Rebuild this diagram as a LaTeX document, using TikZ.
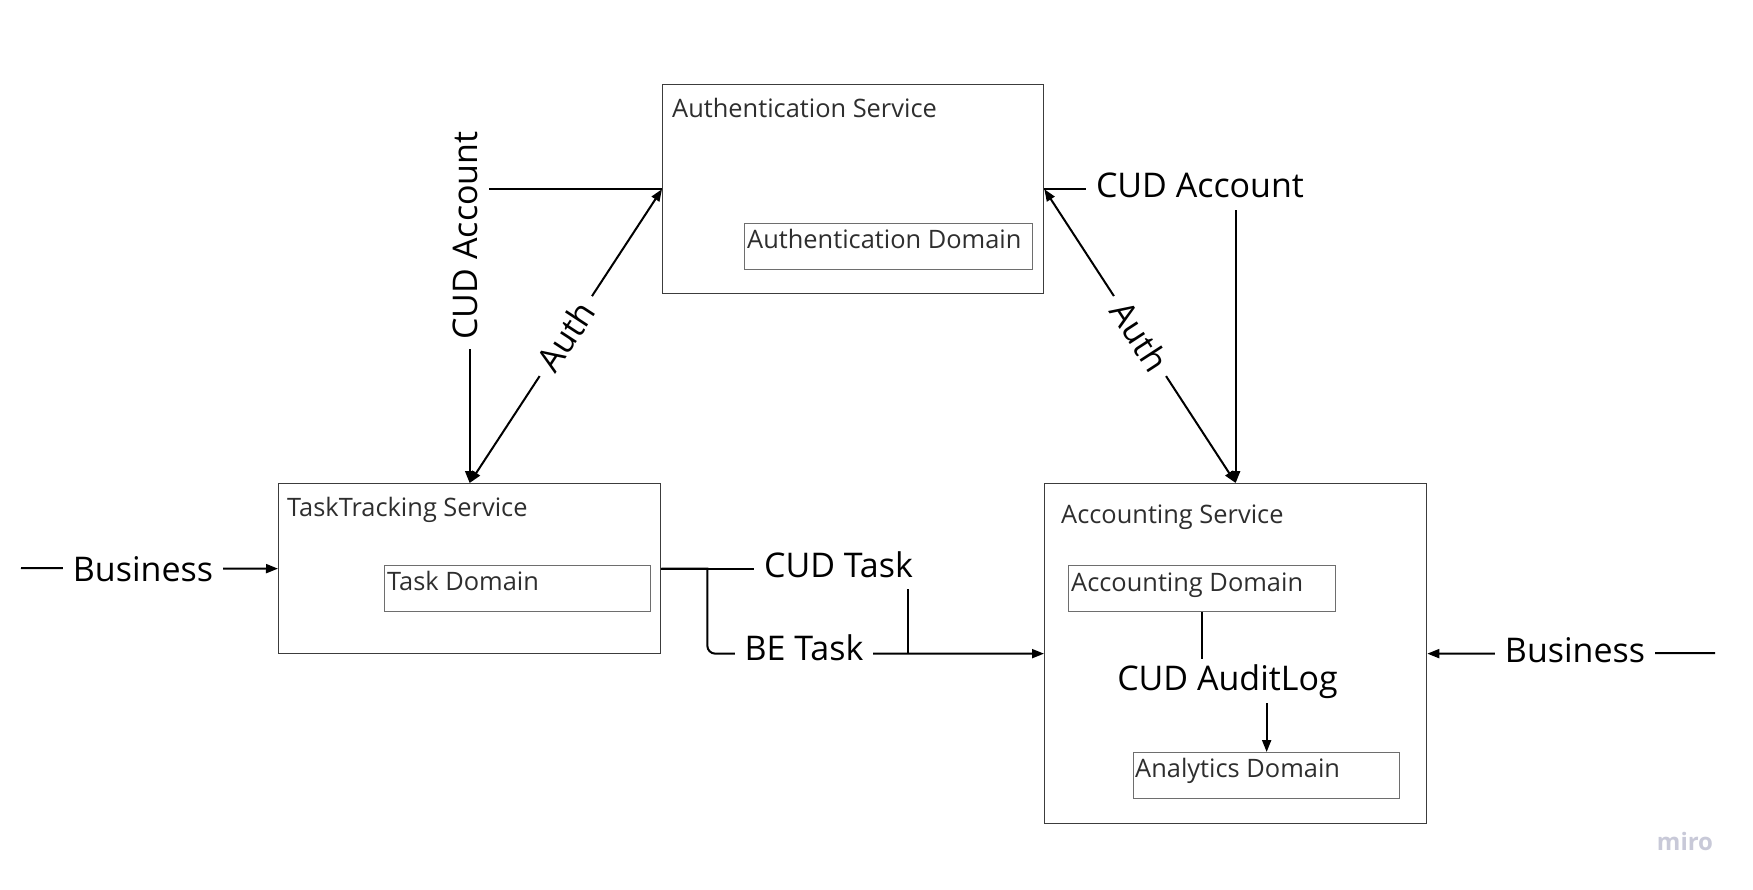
\documentclass[tikz,border=0pt]{standalone}
\usepackage{fontspec}
\setmainfont{Open Sans}
\usetikzlibrary{arrows.meta,calc}
\definecolor{boxgray}{HTML}{3C3C3C}
\definecolor{domgray}{HTML}{6E6E6E}
\definecolor{txtgray}{HTML}{2E2E2E}
\definecolor{mirogray}{HTML}{C8C9D8}
\begin{document}
\begin{tikzpicture}[x=1pt,y=-1pt,
  svcbox/.style={draw=boxgray, line width=1.3pt, anchor=north west, inner sep=0pt},
  dombox/.style={draw=domgray, line width=1.3pt, anchor=north west, inner sep=0pt},
  ttl/.style={anchor=base west, inner sep=0pt, font=\fontsize{25.4}{30}\selectfont, text=txtgray},
  domtxt/.style={anchor=base west, inner sep=0pt, font=\fontsize{25.4}{30}\selectfont, text=txtgray},
  conn/.style={line width=2pt, draw=black},
  tip/.style={-{Triangle[length=12pt,width=9pt]}},
  dtip/.style={{Triangle[length=12pt,width=9pt]}-{Triangle[length=12pt,width=9pt]}},
  lbl/.style={fill=white, inner xsep=10pt, inner ysep=12pt, font=\fontsize{34}{40}\selectfont, text=black},
]
\useasboundingbox (0,0) rectangle (1753,890);

% service boxes
\node[svcbox, minimum width=381pt, minimum height=209pt] (auth) at (662,84) {};
\node[svcbox, minimum width=382pt, minimum height=170pt] (tt) at (278,483) {};
\node[svcbox, minimum width=382pt, minimum height=340pt] (acc) at (1044,483) {};

% domain boxes
\node[dombox, minimum width=288pt, minimum height=46pt] (authdom) at (744,223) {};
\node[dombox, minimum width=266pt, minimum height=46pt] (taskdom) at (384,565) {};
\node[dombox, minimum width=267pt, minimum height=46pt] (accdom) at (1068,565) {};
\node[dombox, minimum width=266pt, minimum height=46pt] (anadom) at (1133,752) {};

% titles
\node[ttl] (authT) at (672,118) {Authentication Service};
\node[ttl] (ttT) at (287,516) {TaskTracking Service};
\node[ttl] (accT) at (1061,523) {Accounting Service};
\node[domtxt] (authdomT) at (747,249) {Authentication Domain};
\node[domtxt] (taskdomT) at (387,590) {Task Domain};
\node[domtxt] (accdomT) at (1071,591) {Accounting Domain};
\node[domtxt] (anadomT) at (1135,777) {Analytics Domain};

% connectors
\draw[conn, tip] (auth.west) -| (tt.north);
\draw[conn, tip] (auth.east) -| (acc.north);
\draw[conn, dtip] (tt.north) -- node[lbl, sloped] (authL) {Auth} (auth.west);
\draw[conn, dtip] (auth.east) -- node[lbl, sloped] (authR) {Auth} (acc.north);

\coordinate (join) at ($(acc.west)+(-136,0)$);
\draw[conn] (tt.east) -| (join);
\draw[conn, tip] (tt.east) -- ++(46,0) [rounded corners=8pt] |- (acc.west);

\coordinate (bizL) at (21,568);
\coordinate (bizR) at (1715,653);
\draw[conn, tip] (bizL) -- (tt.west);
\draw[conn, tip] (bizR) -- (acc.east);

\draw[conn, tip] (accdom.south) -- ++(0,70) -| (anadom.north);

% labels
\node[lbl, rotate=90, anchor=base] (cudaccL) at (477,235.5) {CUD Account};
\node[lbl, anchor=base] (cudaccR) at (1200,198) {CUD Account};
\node[lbl, anchor=base] (cudtask) at (838.5,577) {CUD Task};
\node[lbl, anchor=base] (betask) at (804,660) {BE Task};
\node[lbl, anchor=base] (bizLT) at (143,581) {Business};
\node[lbl, anchor=base] (bizRT) at (1575,662) {Business};
\node[lbl, inner sep=5pt, anchor=base] (audit) at (1227.5,690) {CUD AuditLog};

\node[anchor=base, inner sep=0pt, text=mirogray, font=\fontsize{24}{28}\selectfont\bfseries] (miro) at (1685,850) {miro};
\end{tikzpicture}
\end{document}
